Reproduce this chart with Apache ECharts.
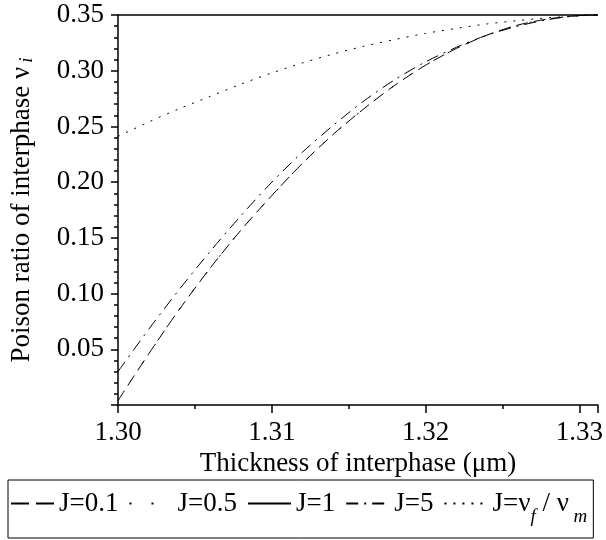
<!DOCTYPE html>
<html>
<head>
<meta charset="utf-8">
<script src="https://cdn.jsdelivr.net/npm/echarts@6/dist/echarts.min.js"></script>
<style>
  html, body { margin: 0; padding: 0; background: #fff; }
  #chart { width: 606px; height: 540px; }
</style>
</head>
<body>
<div id="chart"></div>
<script>
// thickness of interphase (um)
const thickness = [1.300, 1.302, 1.304, 1.306, 1.308, 1.310, 1.312, 1.314, 1.316,
  1.318, 1.320, 1.322, 1.324, 1.326, 1.328, 1.330, 1.3312];

// poison ratio of interphase
const j01 = [0.004, 0.046, 0.086, 0.123, 0.157, 0.188, 0.217, 0.243, 0.266,
  0.287, 0.305, 0.320, 0.332, 0.341, 0.3465, 0.3495, 0.35];
const j05 = [0.004, 0.046, 0.086, 0.123, 0.157, 0.188, 0.217, 0.243, 0.266,
  0.287, 0.305, 0.320, 0.332, 0.341, 0.3465, 0.3495, 0.35];
const j1 = [0.35, 0.35, 0.35, 0.35, 0.35, 0.35, 0.35, 0.35, 0.35,
  0.35, 0.35, 0.35, 0.35, 0.35, 0.35, 0.35, 0.35];
const j5 = [0.030, 0.068, 0.104, 0.138, 0.170, 0.200, 0.227, 0.251, 0.273,
  0.292, 0.308, 0.321, 0.332, 0.340, 0.346, 0.3495, 0.35];
const jRatio = [0.241, 0.254, 0.266, 0.277, 0.288, 0.298, 0.307, 0.315, 0.322,
  0.328, 0.3335, 0.338, 0.342, 0.345, 0.3475, 0.3493, 0.35];

const seriesNames = ['J=0.1', 'J=0.5', 'J=1', 'J=5', 'J=vf/vm'];
const FONT = '"Liberation Serif", "Times New Roman", serif';

const pair = (ys) => thickness.map((x, i) => [x, ys[i]]);

function lineSeries(name, ys, type, width) {
  return {
    name: name,
    type: 'line',
    data: pair(ys),
    symbol: 'none',
    smooth: 0.3,
    clip: false,
    lineStyle: { color: '#000', width: width || 1, type: type },
    itemStyle: { color: '#000' },
  };
}

const chart = echarts.init(document.getElementById('chart'));

const option = {
  animation: false,
  backgroundColor: '#fff',
  grid: { left: 115, right: 8, top: 15, bottom: 135 },
  legend: {
    left: 8,
    top: 480,
    padding: [10, 6, 12, 2],
    borderColor: '#000',
    borderWidth: 1,
    itemWidth: 43,
    itemHeight: 14,
    itemGap: 10,
    selectedMode: false,
    itemStyle: { opacity: 0 },
    data: [
      { name: 'J=0.1', lineStyle: { type: [18, 7] } },
      'J=0.5', 'J=1', 'J=5', 'J=vf/vm',
    ],
    textStyle: {
      fontFamily: FONT,
      fontSize: 27,
      color: '#000',
      rich: {
        t: { fontFamily: FONT, fontSize: 27, color: '#000' },
        s: { fontFamily: FONT, fontSize: 19, fontStyle: 'italic', color: '#000', padding: [26, 0, 0, 0] },
      },
    },
    formatter: (name) => {
      if (name === 'J=vf/vm') return '{t|J=ν}{s|f}{t| / ν}{s| m}';
      return name;
    },
  },
  xAxis: {
    type: 'value',
    min: 1.30,
    max: 1.3312,
    interval: 0.01,
    name: 'Thickness of interphase (μm)',
    nameLocation: 'middle',
    nameGap: 44,
    nameTextStyle: { fontFamily: FONT, fontSize: 27, color: '#000' },
    axisLine: { lineStyle: { color: '#000', width: 1.5 } },
    axisTick: { length: 8, lineStyle: { color: '#000', width: 1.5 } },
    minorTick: { show: true, splitNumber: 2, length: 4, lineStyle: { color: '#000', width: 1.5 } },
    splitLine: { show: false },
    axisLabel: {
      fontFamily: FONT, fontSize: 27, color: '#000', margin: 14,
      showMaxLabel: false,
      formatter: (v) => v.toFixed(2),
    },
  },
  yAxis: {
    type: 'value',
    min: 0,
    max: 0.35,
    interval: 0.05,
    name: 'Poison ratio of interphase ν{s|i}',
    nameLocation: 'middle',
    nameGap: 82,
    nameTextStyle: {
      fontFamily: FONT, fontSize: 27, color: '#000',
      rich: {
        s: { fontFamily: FONT, fontSize: 19, fontStyle: 'italic', color: '#000', padding: [10, 0, 0, 4] },
      },
    },
    axisLine: { show: true, lineStyle: { color: '#000', width: 1.5 } },
    axisTick: { show: true, length: 7, lineStyle: { color: '#000', width: 1.5 } },
    minorTick: { show: true, splitNumber: 5, length: 4, lineStyle: { color: '#000', width: 1.5 } },
    splitLine: { show: false },
    axisLabel: {
      fontFamily: FONT, fontSize: 27, color: '#000', margin: 14,
      formatter: (v) => (v === 0 ? '' : v.toFixed(2)),
    },
  },
  series: [
    lineSeries('J=0.1', j01, [12, 6]),
    lineSeries('J=0.5', j05, [2, 20]),
    lineSeries('J=1', j1, 'solid', 1.5),
    lineSeries('J=5', j5, [12, 6, 2, 6]),
    lineSeries('J=vf/vm', jRatio, [2, 7]),
  ],
};

chart.setOption(option);
</script>
</body>
</html>
